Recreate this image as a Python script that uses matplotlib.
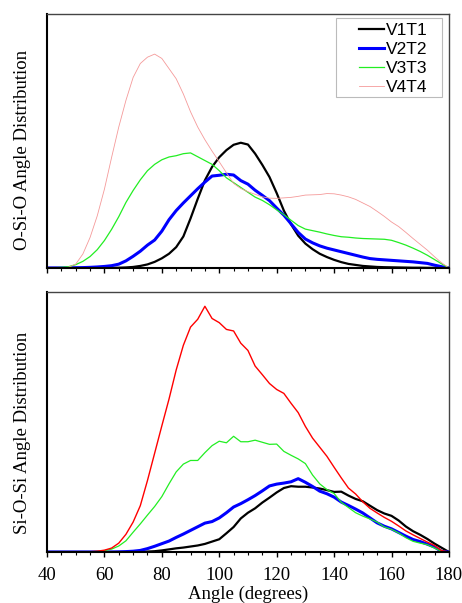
import matplotlib.pyplot as plt
from matplotlib.patches import Rectangle
from matplotlib.ticker import MultipleLocator

angles = [40, 42.5, 45, 47.5, 50, 52.5, 55, 57.5, 60, 62.5, 65, 67.5, 70, 72.5, 75, 77.5,
          80, 82.5, 85, 87.5, 90, 92.5, 95, 97.5, 100, 102.5, 105, 107.5, 110, 112.5, 115, 117.5,
          120, 122.5, 125, 127.5, 130, 132.5, 135, 137.5, 140, 142.5, 145, 147.5, 150, 152.5, 155, 157.5,
          160, 162.5, 165, 167.5, 170, 172.5, 175, 177.5, 180]

# O-Si-O angle distribution (arbitrary units)
osio_v1t1 = [0, 0, 0, 0, 0, 0, 0, 0, 0, 0.05, 0.1, 0.2, 0.4, 0.8, 1.4, 2.4,
             3.8, 5.6, 8.2, 12.4, 19.5, 27.2, 34.5, 39.8, 43.6, 46.4, 48.5, 49.3, 48.6, 45, 40.6, 35.8,
             29.5, 22.6, 17.2, 12.7, 9.6, 7.4, 5.6, 4.3, 3.2, 2.3, 1.6, 1.2, 0.8, 0.6, 0.4, 0.3,
             0.25, 0.2, 0.15, 0.1, 0.1, 0.05, 0.05, 0, 0]
osio_v2t2 = [0, 0, 0, 0.05, 0.1, 0.15, 0.25, 0.4, 0.6, 0.9, 1.5, 2.8, 4.6, 6.6, 9.0, 11,
             14.5, 19, 22.6, 25.6, 28.4, 31.2, 33.8, 36.2, 36.5, 36.9, 36.6, 34.4, 33, 30.6, 28.6, 26.5,
             23.6, 20.8, 17.4, 14, 11.4, 9.9, 8.7, 7.8, 7.1, 6.4, 5.7, 5.0, 4.3, 3.7, 3.4, 3.2,
             3.0, 2.8, 2.6, 2.4, 2.1, 1.8, 1.1, 0.5, 0]
osio_v3t3 = [0, 0.1, 0.25, 0.5, 1.3, 2.6, 4.5, 7.2, 10.8, 15.2, 20.2, 25.8, 30.5, 34.7, 38.3, 40.8,
             42.6, 43.7, 44.2, 45, 45.3, 43.8, 42.3, 40.8, 38.3, 35.5, 33.6, 31.7, 29.8, 27.9, 26.6, 24.9,
             22.9, 21, 18.8, 16.7, 15.3, 14.7, 14.1, 13.4, 12.8, 12.3, 12.1, 11.8, 11.6, 11.5, 11.4, 11.3,
             10.9, 10.0, 9.0, 7.8, 6.5, 5.0, 3.3, 1.6, 0]
osio_v4t4 = [0, 0, 0, 0.3, 1.5, 5.5, 12, 20.5, 31, 43.5, 55.5, 66, 75, 80.5, 83, 84.2,
             82.5, 78.5, 74.5, 68.5, 61.5, 55.5, 50.5, 46, 41.8, 37.5, 33.3, 31.3, 30, 29, 28, 27.5,
             27.4, 27.6, 27.8, 28.2, 28.7, 28.8, 28.9, 29.3, 29.2, 28.7, 28, 27, 25.6, 24.2, 22.3, 20.3,
             18.1, 16.3, 14, 11.6, 9.3, 7, 4.4, 2.0, 0]

# Si-O-Si angle distribution (arbitrary units)
sios_v1t1 = [0, 0, 0, 0, 0, 0, 0, 0, 0, 0, 0, 0, 0, 0.05, 0.15, 0.3,
             0.6, 1.0, 1.4, 1.7, 2.1, 2.5, 3.1, 4.0, 4.9, 7.2, 9.6, 12.9, 15.1, 16.8, 19.0, 20.9,
             22.9, 24.6, 25.3, 25.1, 25.1, 24.8, 24.4, 23.8, 23.1, 23.2, 21.7, 20.4, 19.5, 17.8, 16.1, 14.8,
             13.9, 12.1, 9.8, 8.0, 6.6, 5.0, 3.2, 1.6, 0]
sios_v2t2 = [0, 0, 0, 0, 0, 0, 0, 0, 0, 0, 0.05, 0.15, 0.3, 0.6, 1.3, 2.2,
             3.2, 4.2, 5.6, 6.9, 8.3, 9.7, 11.1, 11.7, 13.1, 15.1, 17.3, 18.6, 20.1, 21.7, 23.5, 25.4,
             26.1, 26.5, 27, 28.2, 26.8, 25.2, 23.4, 22.4, 21.1, 19.2, 17.9, 16.5, 15, 13.1, 11.2, 9.9,
             8.9, 7.5, 6.1, 4.8, 4.0, 3.0, 1.9, 0.2, 0]
sios_v3t3 = [0, 0, 0, 0, 0, 0, 0.05, 0.2, 0.5, 1.1, 2.3, 4.3, 7.6, 10.8, 14.2, 17.5,
             21.3, 26.2, 30.8, 33.8, 35.2, 35.2, 38.2, 40.9, 42.6, 42, 44.5, 42.4, 42.4, 43, 42.2, 41.4,
             41.5, 38.7, 37.2, 35.8, 34, 29.6, 26.2, 24, 22.5, 19.1, 17.1, 15.1, 13.8, 12.7, 11.5, 9.6,
             8.7, 7.3, 5.5, 4.1, 3.4, 2.8, 1.5, 0.2, 0]
sios_v4t4 = [0, 0, 0, 0, 0, 0, 0.1, 0.3, 0.7, 1.5, 3.4, 6.8, 11.5, 17.8, 27.5, 38,
             48.5, 58.8, 70, 79.5, 86.5, 89.5, 94.5, 89.8, 88.2, 85.6, 85, 80.3, 77.5, 71.5, 68.2, 64.8,
             62.5, 61, 57.2, 53.6, 48.3, 43.8, 40.3, 36.8, 32.6, 28.5, 24.6, 22.3, 19.3, 16.8, 15, 13.3,
             11.8, 10, 8.1, 6.6, 5.2, 3.8, 2.5, 0.5, 0]

labels = ["V1T1", "V2T2", "V3T3", "V4T4"]

serif = "Liberation Serif"

fig = plt.figure(figsize=(4.62, 6.03), dpi=100)
ax1 = fig.add_axes([0.1017, 0.5556, 0.870, 0.4212])
ax2 = fig.add_axes([0.1017, 0.0846, 0.870, 0.4312])

ax1.plot(angles, osio_v1t1, color="black", lw=1.6, label=labels[0])
ax1.plot(angles, osio_v2t2, color="#0000ff", lw=2.2, label=labels[1])
ax1.plot(angles, osio_v3t3, color="#22ee22", lw=0.9, label=labels[2])
ax1.plot(angles, osio_v4t4, color="#f59a9a", lw=0.6, label=labels[3])

ax2.plot(angles, sios_v1t1, color="black", lw=1.6)
ax2.plot(angles, sios_v2t2, color="#0000ff", lw=2.2)
ax2.plot(angles, sios_v3t3, color="#22ee22", lw=0.9)
ax2.plot(angles, sios_v4t4, color="#ff0000", lw=1.0)

for ax in (ax1, ax2):
    ax.set_xlim(40, 180)
    ax.set_ylim(0, 100)
    ax.set_yticks([])
    ax.xaxis.set_major_locator(MultipleLocator(20))
    ax.xaxis.set_minor_locator(MultipleLocator(5))
    ax.tick_params(axis="x", which="major", direction="out", length=3.5, width=1.0, pad=7)
    ax.tick_params(axis="x", which="minor", direction="out", length=2.5, width=0.8)
    ax.spines["left"].set_linewidth(1.5)
    ax.spines["bottom"].set_linewidth(1.5)
    ax.spines["top"].set_color("#444444")
    ax.spines["right"].set_color("#444444")
    ax.spines["top"].set_linewidth(1.0)
    ax.spines["right"].set_linewidth(1.0)

ax1.tick_params(axis="x", labelbottom=False)
for lbl in ax2.get_xticklabels():
    lbl.set_fontfamily(serif)
    lbl.set_fontsize(13.5)

ax1.set_ylabel("O-Si-O Angle Distribution", fontfamily=serif, fontsize=13.5)
ax2.set_ylabel("Si-O-Si Angle Distribution", fontfamily=serif, fontsize=13.5)
ax1.yaxis.set_label_coords(-0.04, 0.465)
ax2.yaxis.set_label_coords(-0.04, 0.46)
ax2.set_xlabel("Angle (degrees)", fontfamily=serif, fontsize=13.5, labelpad=1.5)

# legend box drawn separately so its frame can have the wide left margin of the original
ax1.add_patch(Rectangle((0.719, 0.673), 0.264, 0.311, transform=ax1.transAxes,
                        facecolor="white", edgecolor="#bbbbbb", lw=0.8, zorder=4))
leg = ax1.legend(loc="upper left", bbox_to_anchor=(0.754, 0.998), frameon=False,
                 prop={"family": "Liberation Sans", "size": 12.5},
                 handlelength=1.45, handletextpad=0.1, labelspacing=0.22, borderpad=0)
leg.set_zorder(5)

fig.savefig("out.png", dpi=100)
